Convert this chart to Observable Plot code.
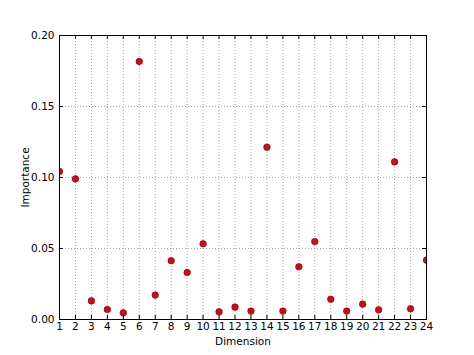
<!DOCTYPE html>
<html>
<head>
<meta charset="utf-8">
<script src="https://cdn.jsdelivr.net/npm/d3@7"></script>
<script src="https://cdn.jsdelivr.net/npm/@observablehq/plot@0.6"></script>
<style>
  html, body { margin: 0; padding: 0; background: #fff; }
</style>
</head>
<body>
<div id="chart"></div>
<script>
const dimensions = [1,2,3,4,5,6,7,8,9,10,11,12,13,14,15,16,17,18,19,20,21,22,23,24];
const importance = [0.1042,0.0990,0.0131,0.0070,0.0047,0.1817,0.0172,0.0414,0.0331,0.0533,0.0054,0.0087,0.0059,0.1213,0.0059,0.0371,0.0549,0.0143,0.0059,0.0108,0.0068,0.1110,0.0075,0.0418];
const yTicks = [0, 0.05, 0.10, 0.15, 0.20];
const xLabel = "Dimension";
const yLabel = "Importance";

const data = dimensions.map((d, i) => ({dim: d, imp: importance[i]}));

const W = 474, H = 355, mL = 59, mR = 48, mT = 35, mB = 36;
const pw = W - mL - mR, ph = H - mT - mB;
const tk = 4;
const font = "DejaVu Sans, sans-serif";

const chart = Plot.plot({
  width: W, height: H,
  marginLeft: mL, marginRight: mR, marginTop: mT, marginBottom: mB,
  style: {fontFamily: font, fontSize: "10.5px", color: "#000", background: "#fff"},
  x: {domain: [1, 24], ticks: dimensions},
  y: {domain: [0, 0.2], ticks: yTicks},
  marks: [
    Plot.gridX(dimensions, {stroke: "#aaa", strokeOpacity: 1, strokeDasharray: "1,2", strokeWidth: 1}),
    Plot.gridY(yTicks, {stroke: "#aaa", strokeOpacity: 1, strokeDasharray: "1,2", strokeWidth: 1}),
    Plot.dot(data, {x: "dim", y: "imp", r: 3.3, fill: "#c8101a", stroke: "#700000", strokeWidth: 0.6, clip: true}),
    // inward ticks on all four sides
    Plot.tickX(dimensions, {x: d => d, insetBottom: ph - tk, stroke: "#000"}),
    Plot.tickX(dimensions, {x: d => d, insetTop: ph - tk, stroke: "#000"}),
    Plot.tickY(yTicks, {y: d => d, insetRight: pw - tk, stroke: "#000"}),
    Plot.tickY(yTicks, {y: d => d, insetLeft: pw - tk, stroke: "#000"}),
    Plot.axisX(dimensions, {tickSize: 0, tickPadding: 3, tickFormat: d => String(d), fontSize: 10.5,
      label: xLabel, labelAnchor: "center", labelArrow: "none", labelOffset: 25}),
    Plot.axisY(yTicks, {tickSize: 0, tickPadding: 5, tickFormat: d3.format(".2f"), fontSize: 10.5,
      label: yLabel, labelAnchor: "center", labelArrow: "none", labelOffset: 38}),
    Plot.frame({stroke: "#000", strokeWidth: 1})
  ]
});
document.getElementById("chart").appendChild(chart);
</script>
</body>
</html>
